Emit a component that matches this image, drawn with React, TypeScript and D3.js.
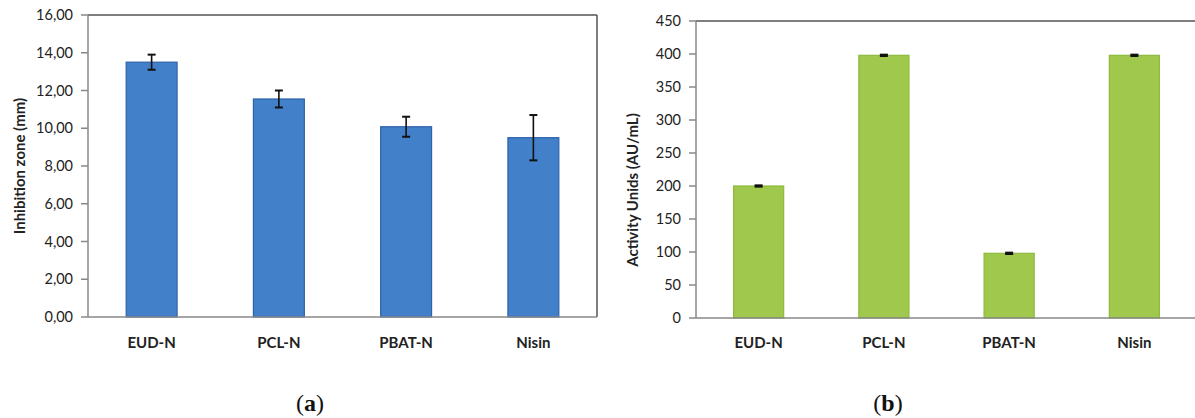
import * as d3 from "d3";

const categories = ["EUD-N", "PCL-N", "PBAT-N", "Nisin"];

// (a) inhibition zone, mm
const zoneValues = [13.5, 11.55, 10.08, 9.5];
const zoneErrors = [0.4, 0.45, 0.53, 1.2];
const zoneTicks = [0, 2, 4, 6, 8, 10, 12, 14, 16];

// (b) activity units, AU/mL
const auValues = [200, 398, 98, 398];
const auErrors = [1, 1, 1, 1];
const auTicks = [0, 50, 100, 150, 200, 250, 300, 350, 400, 450];

const font = "Lato, 'Noto Sans', sans-serif";
const fmtComma = (v: number) => v.toFixed(2).replace(".", ",");

type PanelProps = {
  values: number[];
  errors: number[];
  ticks: number[];
  max: number;
  x0: number;
  x1: number;
  top: number;
  bottom: number;
  fill: string;
  stroke: string;
  title: string;
  titleX: number;
  titleY: number;
  fmt: (v: number) => string;
  box: boolean;
};

const Panel = (p: PanelProps) => {
  const x = d3.scaleBand().domain(categories).range([p.x0, p.x1]).paddingInner(0.6).paddingOuter(0.3);
  const y = d3.scaleLinear().domain([0, p.max]).range([p.bottom, p.top]);
  const bw = x.bandwidth();
  return (
    <g>
      {/* bars */}
      {categories.map((c, i) => (
        <rect
          key={c}
          x={x(c)}
          y={y(p.values[i])}
          width={bw}
          height={p.bottom - y(p.values[i])}
          fill={p.fill}
          stroke={p.stroke}
          strokeWidth={1.2}
        />
      ))}
      {/* error bars */}
      {categories.map((c, i) => {
        const cx = (x(c) as number) + bw / 2;
        const hi = y(p.values[i] + p.errors[i]);
        const lo = y(p.values[i] - p.errors[i]);
        return (
          <g key={c} stroke="#111" strokeWidth={1.6}>
            <line x1={cx} x2={cx} y1={hi} y2={lo} />
            <line x1={cx - 4} x2={cx + 4} y1={hi} y2={hi} strokeWidth={2} />
            <line x1={cx - 4} x2={cx + 4} y1={lo} y2={lo} strokeWidth={2} />
          </g>
        );
      })}
      {/* frame */}
      <line x1={p.x0} x2={p.x1} y1={p.top} y2={p.top} stroke="#555" strokeWidth={1.5} />
      {p.box && <line x1={p.x1} x2={p.x1} y1={p.top} y2={p.bottom} stroke="#555" strokeWidth={1.5} />}
      <line x1={p.x0} x2={p.x1} y1={p.bottom} y2={p.bottom} stroke="#888" strokeWidth={1.5} />
      <line x1={p.x0} x2={p.x0} y1={p.top} y2={p.bottom} stroke="#888" strokeWidth={1.5} />
      {/* y ticks */}
      {p.ticks.map((t) => (
        <g key={t}>
          <line x1={p.x0 - 7} x2={p.x0} y1={y(t)} y2={y(t)} stroke="#888" strokeWidth={1.5} />
          <text x={p.x0 - 15} y={y(t)} dy="0.35em" textAnchor="end" fontSize={14.5} fill="#222" fontFamily={font}>
            {p.fmt(t)}
          </text>
        </g>
      ))}
      {/* x labels */}
      {categories.map((c) => (
        <text
          key={c}
          x={(x(c) as number) + bw / 2}
          y={348}
          textAnchor="middle"
          fontSize={15}
          fontWeight="bold"
          fill="#222"
          fontFamily={font}
        >
          {c}
        </text>
      ))}
      <text
        transform={`translate(${p.titleX},${p.titleY}) rotate(-90)`}
        textAnchor="middle"
        dy="0.35em"
        fontSize={15}
        fontWeight="bold"
        fill="#222"
        fontFamily={font}
      >
        {p.title}
      </text>
    </g>
  );
};

export default function App() {
  return (
    <svg
      width={1195}
      height={418}
      style={{ position: "absolute", left: 0, top: 0, background: "#fff" }}
    >
      <Panel
        values={zoneValues}
        errors={zoneErrors}
        ticks={zoneTicks}
        max={16}
        x0={88}
        x1={597}
        top={15}
        bottom={317}
        fill="#4380CA"
        stroke="#2B62A8"
        title="Inhibition zone (mm)"
        titleX={20}
        titleY={166}
        fmt={fmtComma}
        box={true}
      />
      <Panel
        values={auValues}
        errors={auErrors}
        ticks={auTicks}
        max={450}
        x0={696}
        x1={1197}
        top={21}
        bottom={318}
        fill="#A0C84C"
        stroke="#8DBA3E"
        title="Activity Unids (AU/mL)"
        titleX={633}
        titleY={190}
        fmt={(v) => String(v)}
        box={false}
      />
      <text x={310} y={411} textAnchor="middle" fontSize={24} fontFamily="'Liberation Serif', 'DejaVu Serif', serif" fill="#111">
        (<tspan fontWeight="bold">a</tspan>)
      </text>
      <text x={888} y={411} textAnchor="middle" fontSize={24} fontFamily="'Liberation Serif', 'DejaVu Serif', serif" fill="#111">
        (<tspan fontWeight="bold">b</tspan>)
      </text>
    </svg>
  );
}
